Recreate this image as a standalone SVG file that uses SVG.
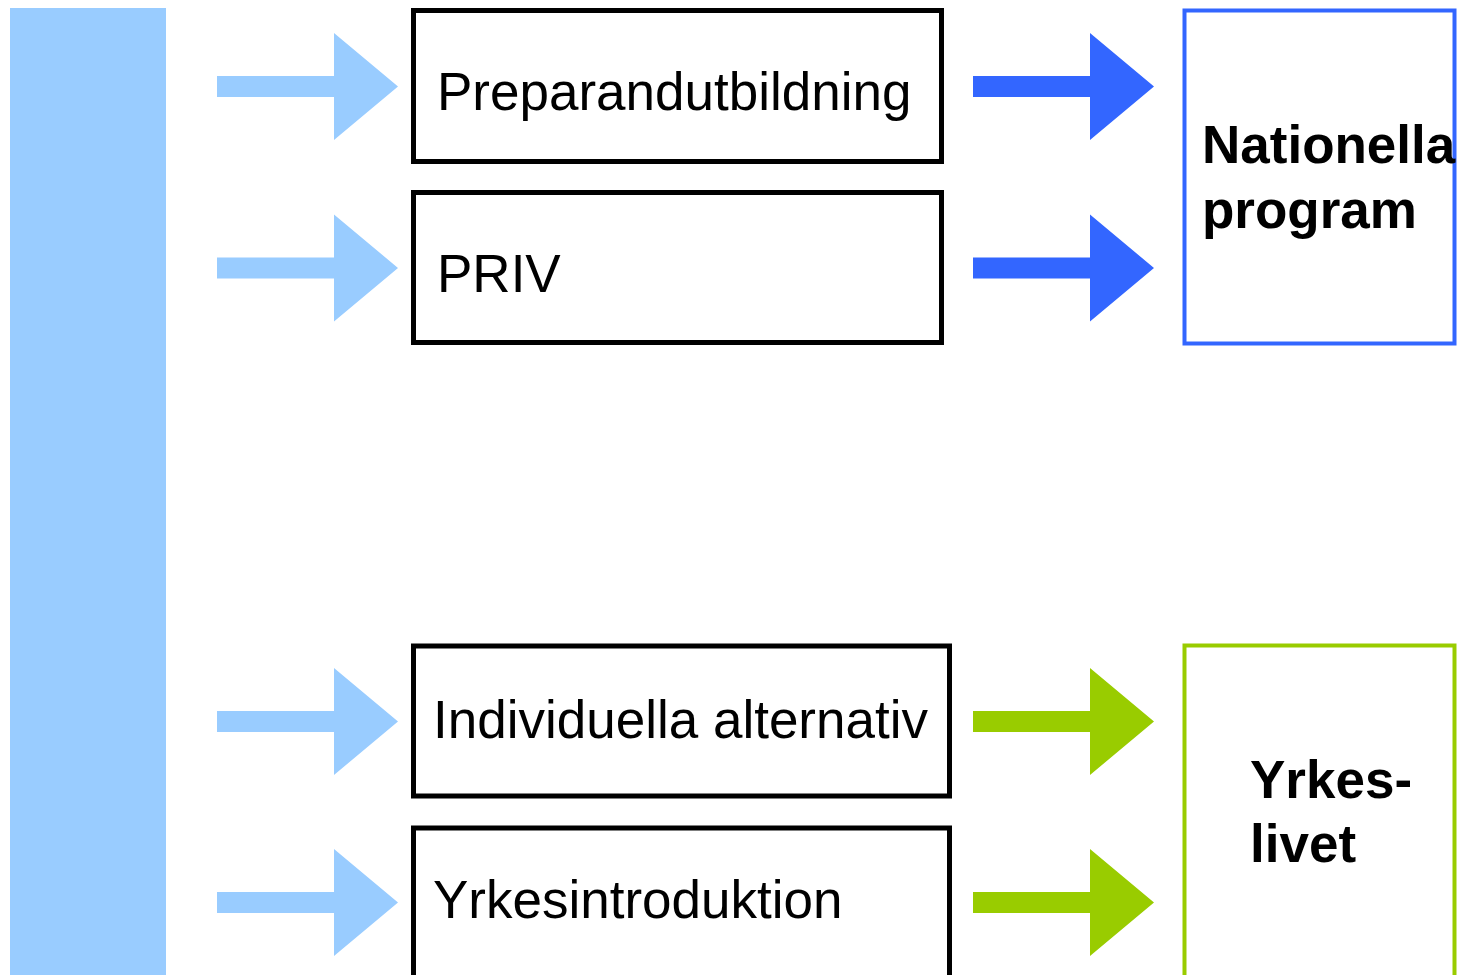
<svg xmlns="http://www.w3.org/2000/svg" width="1457" height="975" viewBox="0 0 1457 975">
<style>
.box{fill:#fff;stroke:#000;stroke-width:5}
.txt{font-family:"Liberation Sans",Arial,sans-serif;font-size:53px;fill:#000}
.bold{font-weight:bold}
.light{fill:#99CCFF}
.blue{fill:#3366FF}
.green{fill:#99CC00}
</style>
<defs>
<path id="arr" d="M0,-10.5 H117 V-53.5 L181,0 L117,53.5 V10.5 H0 Z"/>
</defs>
<rect id="bar" x="10" y="8" width="156" height="967" class="light"/>
<g id="connectors">
<use href="#arr" x="217" y="86.5" class="light"/>
<use href="#arr" x="217" y="268" class="light"/>
<use href="#arr" x="217" y="721.5" class="light"/>
<use href="#arr" x="217" y="902.5" class="light"/>
<use href="#arr" x="973" y="86.5" class="blue"/>
<use href="#arr" x="973" y="268" class="blue"/>
<use href="#arr" x="973" y="721.5" class="green"/>
<use href="#arr" x="973" y="902.5" class="green"/>
</g>
<g id="prep">
<rect x="413.5" y="10.5" width="528" height="151" class="box"/>
<text x="437" y="110" class="txt">Preparandutbildning</text>
</g>
<g id="priv">
<rect x="413.5" y="192.5" width="528" height="150" class="box"/>
<text x="437" y="292" class="txt">PRIV</text>
</g>
<g id="indiv">
<rect x="413.5" y="646" width="536" height="150" class="box"/>
<text x="433" y="738" class="txt">Individuella alternativ</text>
</g>
<g id="yrkesintro">
<rect x="413.5" y="828" width="536" height="160" class="box"/>
<text x="433" y="918" class="txt">Yrkesintroduktion</text>
</g>
<g id="nationella">
<rect x="1184.5" y="10.5" width="270" height="333" fill="#fff" stroke="#3366FF" stroke-width="4"/>
<text class="txt bold"><tspan x="1202" y="163">Nationella</tspan><tspan x="1202" y="228">program</tspan></text>
</g>
<g id="yrkeslivet">
<rect x="1184.5" y="645.5" width="270" height="345" fill="#fff" stroke="#99CC00" stroke-width="4"/>
<text class="txt bold"><tspan x="1250" y="798">Yrkes-</tspan><tspan x="1250" y="862">livet</tspan></text>
</g>
</svg>
